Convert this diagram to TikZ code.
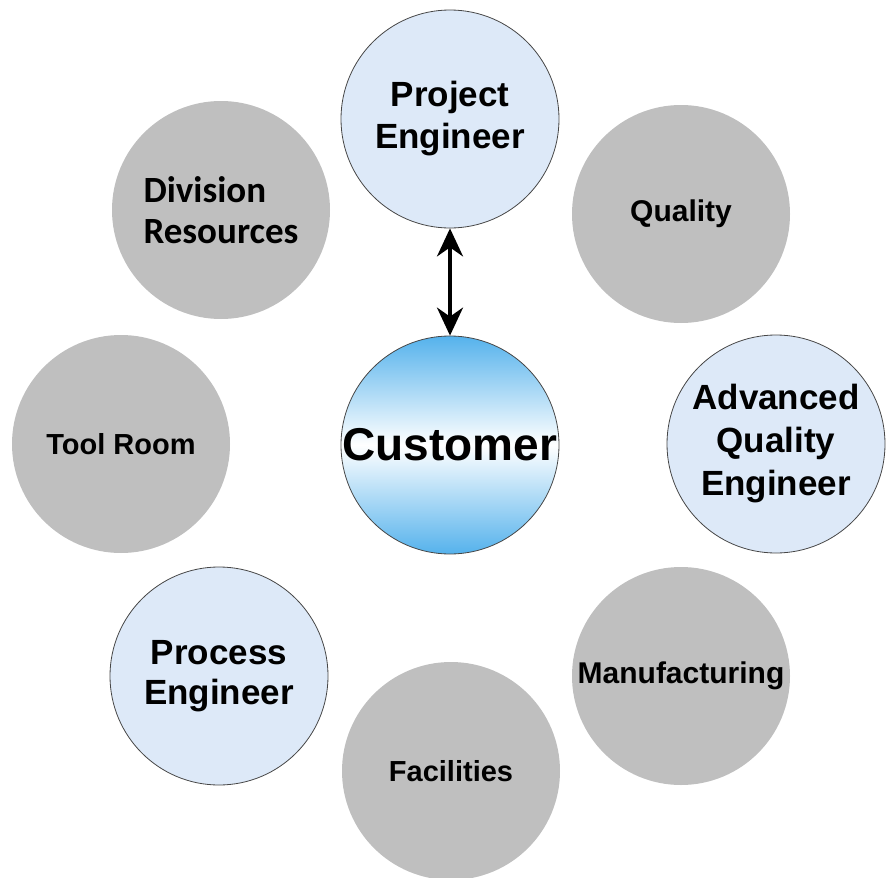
\documentclass[tikz,border=0pt]{standalone}
\usepackage{fontspec}
\setmainfont{Liberation Sans}
\newfontfamily\calfont{Carlito}
\usetikzlibrary{arrows.meta}

\definecolor{circgray}{RGB}{191,191,191}
\definecolor{paleblue}{RGB}{221,233,248}
\definecolor{custblue}{RGB}{85,178,236}
\definecolor{rimgray}{RGB}{70,70,70}

\begin{document}
\begin{tikzpicture}[x=1pt, y=-1pt,
    disc/.style={circle, minimum size=218pt, inner sep=0pt, align=center},
    grey disc/.style={disc, fill=circgray},
    role disc/.style={disc, fill=paleblue, draw=rimgray, line width=0.8pt},
    bigtip/.tip={Stealth[length=28pt, width=26pt, inset=9pt]},
  ]
            \useasboundingbox (0,0) rectangle (895,878);

            \coordinate (pe) at (450,119);
            \coordinate (cu) at (450,445);
            \coordinate (qu) at (681,214);
            \coordinate (dr) at (221,210);
            \coordinate (tr) at (121,444);
            \coordinate (aq) at (776,444);
            \coordinate (pr) at (219,676);
            \coordinate (mf) at (681,676);
            \coordinate (fa) at (451,771);

            \node[grey disc, font=\bfseries\fontsize{30}{36}\selectfont] (quality) at (qu) {Quality};
            \node[grey disc, align=left, font=\calfont\bfseries\fontsize{37}{41}\selectfont] (division) at (dr) {Division\\Resources};
            \node[grey disc, font=\bfseries\fontsize{29}{35}\selectfont] (toolroom) at (tr) {Tool Room};
            \node[grey disc, font=\bfseries\fontsize{30}{36}\selectfont] (manuf) at (mf) {Manufacturing};
            \node[grey disc, font=\bfseries\fontsize{29}{35}\selectfont] (facil) at (fa) {Facilities};

            \node[role disc, font=\bfseries\fontsize{35}{42}\selectfont] (project) at (pe) {Project\\Engineer};
            \node[role disc, font=\bfseries\fontsize{35}{43}\selectfont] (advanced) at (aq) {Advanced\\Quality\\Engineer};
            \node[role disc, font=\bfseries\fontsize{35}{40}\selectfont] (process) at (pr) {Process\\Engineer};

            \node[disc, draw=rimgray, line width=0.8pt, top color=custblue, bottom color=custblue, middle color=white,
                  font=\bfseries\fontsize{46}{52}\selectfont] (customer) at (cu) {Customer};

            \draw[bigtip-bigtip, line width=3.5pt] (project) -- (customer);

        \end{tikzpicture}
\end{document}
